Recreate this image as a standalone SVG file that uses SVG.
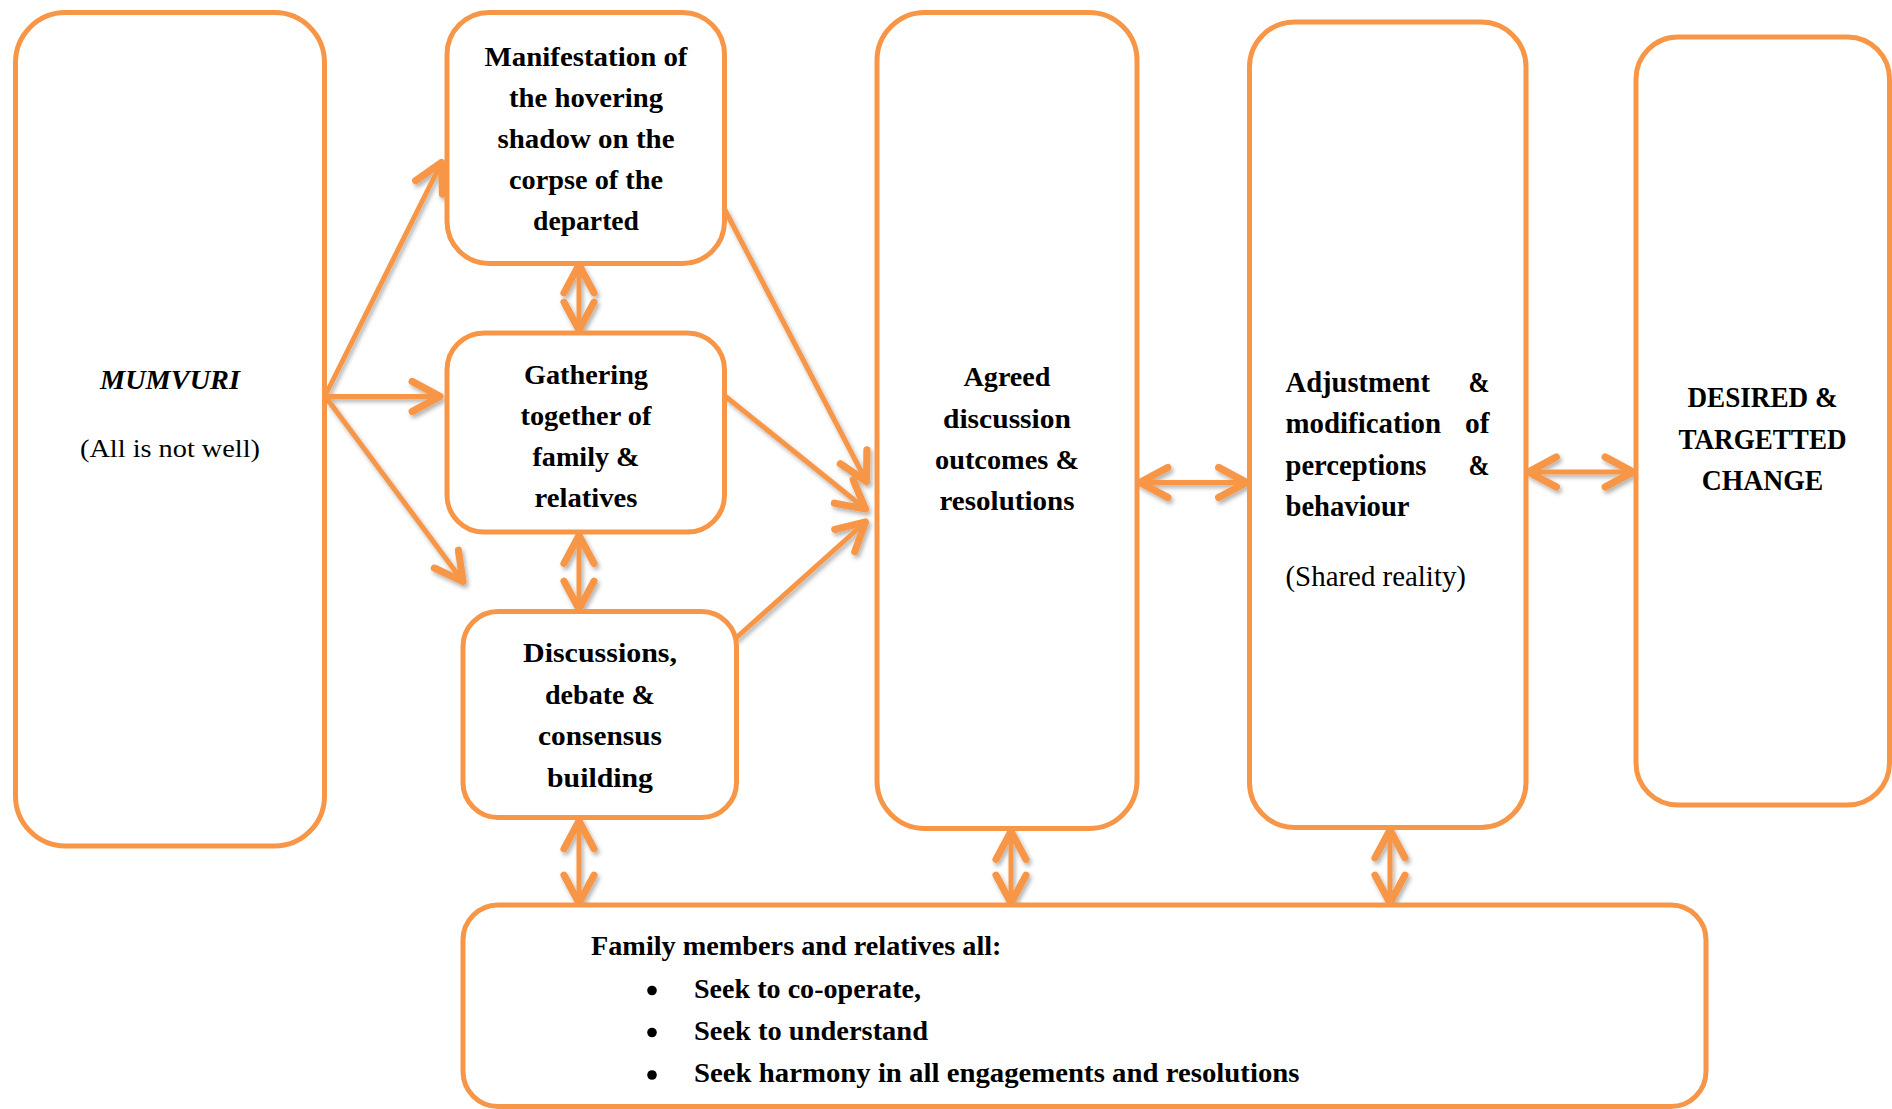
<svg xmlns="http://www.w3.org/2000/svg" width="1892" height="1109" viewBox="0 0 1892 1109">
<style>
.box{fill:#fff;stroke:#F79646;stroke-width:5}
.con{fill:none;stroke:#F79646;stroke-width:5;stroke-linecap:round}
.b{font-family:"Liberation Serif","Times New Roman",serif;font-weight:bold;font-size:27px;fill:#000}
.c{text-anchor:middle}
.r{font-family:"Liberation Serif","Times New Roman",serif;font-size:26px;fill:#000}
.big{font-size:30px}
</style>
<defs>
<marker id="ah" markerUnits="userSpaceOnUse" markerWidth="40" markerHeight="40" refX="0" refY="0" viewBox="-24 -14 28 28" orient="auto-start-reverse" overflow="visible">
<path d="M-19.5,-10.5 L0,0 L-19.5,10.5" fill="none" stroke="#F79646" stroke-width="5" stroke-linecap="round" stroke-linejoin="round"/>
</marker>
<filter id="sh" x="-20%" y="-20%" width="140%" height="140%">
<feDropShadow dx="2" dy="3" stdDeviation="2" flood-color="#000" flood-opacity="0.3"/>
</filter>
</defs>
<rect width="1892" height="1109" fill="#fff"/>

<g id="connectors" filter="url(#sh)">
<line class="con" x1="325" y1="396" x2="441.5" y2="162.5" marker-end="url(#ah)"/>
<line class="con" x1="325" y1="396.5" x2="440" y2="396.5" marker-end="url(#ah)"/>
<line class="con" x1="325" y1="396" x2="463" y2="581.5" marker-end="url(#ah)"/>
<line class="con" x1="579" y1="265" x2="579" y2="330" marker-start="url(#ah)" marker-end="url(#ah)"/>
<line class="con" x1="579" y1="535.5" x2="579" y2="609" marker-start="url(#ah)" marker-end="url(#ah)"/>
<line class="con" x1="579" y1="821" x2="579" y2="903" marker-start="url(#ah)" marker-end="url(#ah)"/>
<line class="con" x1="725" y1="210" x2="866.5" y2="481.5" marker-end="url(#ah)"/>
<line class="con" x1="725" y1="396" x2="865.5" y2="509" marker-end="url(#ah)"/>
<line class="con" x1="736" y1="638" x2="865.5" y2="522" marker-end="url(#ah)"/>
<line class="con" x1="1140" y1="482.5" x2="1246.5" y2="482.5" marker-start="url(#ah)" marker-end="url(#ah)"/>
<line class="con" x1="1528.5" y1="472" x2="1633" y2="472" marker-start="url(#ah)" marker-end="url(#ah)"/>
<line class="con" x1="1011" y1="831.5" x2="1011" y2="903" marker-start="url(#ah)" marker-end="url(#ah)"/>
<line class="con" x1="1390" y1="830" x2="1390" y2="903" marker-start="url(#ah)" marker-end="url(#ah)"/>
</g>

<g id="mumvuri">
<rect class="box" x="15.5" y="12.5" width="309" height="833.5" rx="50"/>
<text class="b c" x="170" y="389" font-style="italic" textLength="140" lengthAdjust="spacingAndGlyphs">MUMVURI</text>
<text class="r c" x="170" y="457" textLength="180" lengthAdjust="spacingAndGlyphs">(All is not well)</text>
</g>

<g id="manifestation">
<rect class="box" x="447" y="12.5" width="277.5" height="251" rx="42"/>
<text class="b c" x="586" y="65.5" textLength="203" lengthAdjust="spacingAndGlyphs">Manifestation of</text>
<text class="b c" x="586" y="106.5" textLength="154" lengthAdjust="spacingAndGlyphs">the hovering</text>
<text class="b c" x="586" y="147.5" textLength="177" lengthAdjust="spacingAndGlyphs">shadow on the</text>
<text class="b c" x="586" y="188.5" textLength="154" lengthAdjust="spacingAndGlyphs">corpse of the</text>
<text class="b c" x="586" y="229.5" textLength="106" lengthAdjust="spacingAndGlyphs">departed</text>
</g>

<g id="gathering">
<rect class="box" x="447" y="333" width="277.5" height="199" rx="37"/>
<text class="b c" x="586" y="384" textLength="124" lengthAdjust="spacingAndGlyphs">Gathering</text>
<text class="b c" x="586" y="425" textLength="131" lengthAdjust="spacingAndGlyphs">together of</text>
<text class="b c" x="586" y="466" textLength="107" lengthAdjust="spacingAndGlyphs">family &amp;</text>
<text class="b c" x="586" y="507" textLength="103" lengthAdjust="spacingAndGlyphs">relatives</text>
</g>

<g id="discussions">
<rect class="box" x="463" y="611.5" width="273.5" height="206" rx="35"/>
<text class="b c" x="600" y="662" textLength="154" lengthAdjust="spacingAndGlyphs">Discussions,</text>
<text class="b c" x="600" y="703.5" textLength="110" lengthAdjust="spacingAndGlyphs">debate &amp;</text>
<text class="b c" x="600" y="745" textLength="124" lengthAdjust="spacingAndGlyphs">consensus</text>
<text class="b c" x="600" y="786.5" textLength="106" lengthAdjust="spacingAndGlyphs">building</text>
</g>

<g id="agreed">
<rect class="box" x="877" y="12.5" width="260" height="816" rx="48"/>
<text class="b c" x="1007" y="386" textLength="87" lengthAdjust="spacingAndGlyphs">Agreed</text>
<text class="b c" x="1007" y="427.5" textLength="128" lengthAdjust="spacingAndGlyphs">discussion</text>
<text class="b c" x="1007" y="469" textLength="144" lengthAdjust="spacingAndGlyphs">outcomes &amp;</text>
<text class="b c" x="1007" y="510" textLength="135" lengthAdjust="spacingAndGlyphs">resolutions</text>
</g>

<g id="adjustment">
<rect class="box" x="1249.5" y="22" width="276.5" height="805.5" rx="45"/>
<text class="b big" x="1285.5" y="392" textLength="144.5" lengthAdjust="spacingAndGlyphs">Adjustment</text>
<text class="b big" x="1468.5" y="392" textLength="21" lengthAdjust="spacingAndGlyphs">&amp;</text>
<text class="b big" x="1285.5" y="433" textLength="155.5" lengthAdjust="spacingAndGlyphs">modification</text>
<text class="b big" x="1465" y="433" textLength="24.5" lengthAdjust="spacingAndGlyphs">of</text>
<text class="b big" x="1285.5" y="474.5" textLength="141" lengthAdjust="spacingAndGlyphs">perceptions</text>
<text class="b big" x="1468.5" y="474.5" textLength="21" lengthAdjust="spacingAndGlyphs">&amp;</text>
<text class="b big" x="1285.5" y="515.5" textLength="124" lengthAdjust="spacingAndGlyphs">behaviour</text>
<text class="r big" x="1285.5" y="586" textLength="180.5" lengthAdjust="spacingAndGlyphs">(Shared reality)</text>
</g>

<g id="desired">
<rect class="box" x="1636" y="37" width="253.5" height="768" rx="42"/>
<text class="b big c" x="1762.5" y="407" textLength="150" lengthAdjust="spacingAndGlyphs">DESIRED &amp;</text>
<text class="b big c" x="1762.5" y="448.5" textLength="168" lengthAdjust="spacingAndGlyphs">TARGETTED</text>
<text class="b big c" x="1762.5" y="490" textLength="121.5" lengthAdjust="spacingAndGlyphs">CHANGE</text>
</g>

<g id="family">
<rect class="box" x="463" y="905" width="1243" height="201.5" rx="35"/>
<text class="b" x="591" y="955" textLength="410.5" lengthAdjust="spacingAndGlyphs">Family members and relatives all:</text>
<circle cx="652" cy="990.5" r="4.8" fill="#000"/>
<circle cx="652" cy="1032.5" r="4.8" fill="#000"/>
<circle cx="652" cy="1075" r="4.8" fill="#000"/>
<text class="b" x="694" y="998" textLength="227" lengthAdjust="spacingAndGlyphs">Seek to co-operate,</text>
<text class="b" x="694" y="1040" textLength="234" lengthAdjust="spacingAndGlyphs">Seek to understand</text>
<text class="b" x="694" y="1082" textLength="605.5" lengthAdjust="spacingAndGlyphs">Seek harmony in all engagements and resolutions</text>
</g>
</svg>
